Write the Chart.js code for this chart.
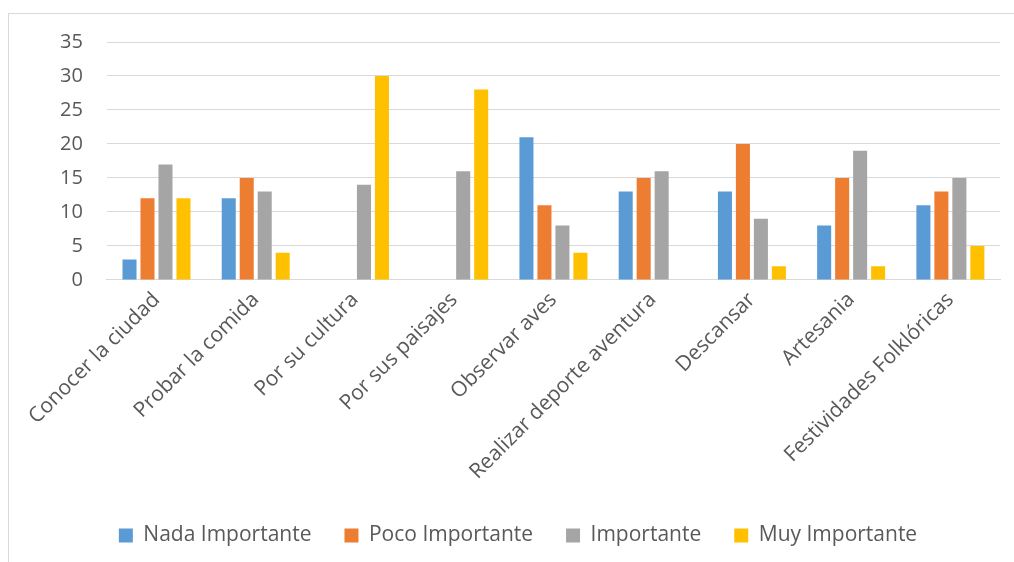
<!DOCTYPE html>
<html>
<head>
<meta charset="utf-8">
<script src="https://cdn.jsdelivr.net/npm/chart.js@4"></script>
<style>
  html, body { margin: 0; padding: 0; background: #fff; overflow: hidden; }
  #frame { position: absolute; left: 8px; top: 13px; width: 1030px; height: 580px; border: 1px solid #d9d9d9; }
  #chart-container { position: absolute; left: 0; top: 0; width: 1014px; height: 562px; }
</style>
</head>
<body>
<div id="frame"></div>
<div id="chart-container"><canvas id="chartMotivos" width="1014" height="562"></canvas></div>
<script>
// categorias y respuestas por nivel de importancia
const categorias = ["Conocer la ciudad", "Probar la comida", "Por su cultura", "Por sus paisajes", "Observar aves",
    "Realizar deporte aventura", "Descansar", "Artesania", "Festividades Folklóricas"];
const nadaImportante = [3, 12, 0, 0, 21, 13, 13, 8, 11];
const pocoImportante = [12, 15, 0, 0, 11, 15, 20, 15, 13];
const importante = [17, 13, 14, 16, 8, 16, 9, 19, 15];
const muyImportante = [12, 4, 30, 28, 4, 0, 2, 2, 5];
const series = ["Nada Importante", "Poco Importante", "Importante", "Muy Importante"];
const ejeY = [0, 5, 10, 15, 20, 25, 30, 35];

const colores = ['#5b9bd5', '#ed7d31', '#a5a5a5', '#ffc000'];
const valores = [nadaImportante, pocoImportante, importante, muyImportante];

const data = {
    labels: categorias,
    datasets: series.map((nombre, i) => {
        return {
            label: nombre,
            data: valores[i],
            backgroundColor: colores[i],
            borderWidth: 0,
            categoryPercentage: 0.725,
            barPercentage: 0.78
        }
    })
};

const fuente = { family: "'Open Sans', sans-serif", size: 21 };

const options = {
    responsive: false,
    animation: false,
    layout: { padding: { left: 36, right: 14, top: 42, bottom: 6 } },
    plugins: {
        tooltip: { enabled: false },
        legend: {
            position: 'bottom',
            labels: {
                color: '#595959',
                font: fuente,
                boxWidth: 14,
                boxHeight: 14,
                padding: 33,
                useBorderRadius: false
            }
        }
    },
    scales: {
        x: {
            grid: { display: false, drawTicks: false },
            border: { color: '#d9d9d9', width: 1 },
            ticks: {
                color: '#595959',
                font: fuente,
                minRotation: 45,
                maxRotation: 45,
                padding: 7.5,
                autoSkip: false
            }
        },
        y: {
            min: 0,
            max: 35,
            afterBuildTicks: axis => { axis.ticks = ejeY.map(v => ({ value: v })); },
            grid: { color: '#d9d9d9', drawTicks: false },
            border: { display: false },
            ticks: {
                color: '#595959',
                font: { family: fuente.family, size: 20 },
                padding: 24
            }
        }
    }
};

const chart = new Chart(document.getElementById('chartMotivos').getContext('2d'), {
    type: 'bar', data: data, options: options
});
</script>
</body>
</html>
